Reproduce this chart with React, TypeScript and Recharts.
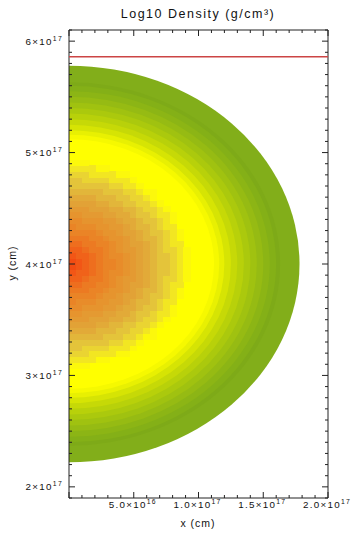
import {
  ScatterChart,
  Scatter,
  XAxis,
  YAxis,
  ReferenceArea,
  ReferenceLine,
} from "recharts";

const FONT = "'Liberation Sans', Arial, sans-serif";
const AXIS = "#222";

// axis setup (cm)
const X_DOMAIN = [0, 2e17];
const Y_DOMAIN = [1.9e17, 6.1e17];
const X_MAJOR = [0, 5e16, 1e17, 1.5e17, 2e17];
const X_LABEL_BASE = ["", "5.0×10", "1.0×10", "1.5×10", "2.0×10"];
const X_LABEL_EXP = ["", "16", "17", "17", "17"];
const Y_MAJOR = [2e17, 3e17, 4e17, 5e17, 6e17];
const Y_LABEL_BASE = ["2×10", "3×10", "4×10", "5×10", "6×10"];
const Y_LABEL_EXP = ["17", "17", "17", "17", "17"];
const MINOR_STEP = 1e16;

// cloud geometry
const CENTER_Y = 4.0e17;
const RED_LINE_Y = 5.86e17;

// smooth outer rings: outer radius (1e17 cm) -> colour
const RING_RADII = [1.78, 1.63, 1.6, 1.55, 1.5, 1.45, 1.4, 1.35, 1.3, 1.25, 1.2, 1.16, 1.12];
const RING_COLORS = [
  "#82ae1a", "#7eaa18", "#84b017", "#8cb515", "#96bb13", "#a0c210", "#abc90d",
  "#b8d10a", "#c6d907", "#d6e404", "#e8f002", "#f6f900", "#ffff00",
];

// blocky core: outer radius (1e17 cm) -> colour
const CORE_RADII = [
  0.05, 0.1, 0.16, 0.22, 0.28, 0.34, 0.4, 0.46, 0.52, 0.58, 0.64, 0.7, 0.76, 0.82, 0.88, 0.92,
];
const CORE_COLORS = [
  "#f24c12", "#f25616", "#f0621a", "#ee6e1e", "#ec7a22", "#ea8426", "#e88c2a", "#e6942e",
  "#e49a32", "#e2a236", "#e2aa38", "#e2b63a", "#e4c43a", "#eAd432", "#f2e622", "#fcf80c",
];
const CELL = 5.2e15;

const xTicks: number[] = [];
for (let v = X_DOMAIN[0]; v <= X_DOMAIN[1] + 1; v += MINOR_STEP) xTicks.push(v);
const yTicks: number[] = [];
for (let k = 19; k <= 61; k++) yTicks.push(k * MINOR_STEP);

const CORE_N = Math.ceil((CORE_RADII[CORE_RADII.length - 1] * 1e17) / CELL);
const cells: { x0: number; x1: number; y0: number; y1: number; color: string }[] = [];
for (let i = 0; i < CORE_N; i++) {
  for (let j = -CORE_N; j < CORE_N; j++) {
    const cx = (i + 0.5) * CELL;
    const cy = (j + 0.5) * CELL;
    const r = Math.hypot(cx, cy) / 1e17;
    const idx = CORE_RADII.findIndex((R) => r < R);
    if (idx < 0) continue;
    cells.push({
      x0: i * CELL,
      x1: (i + 1) * CELL,
      y0: CENTER_Y + j * CELL,
      y1: CENTER_Y + (j + 1) * CELL,
      color: CORE_COLORS[idx],
    });
  }
}
const CORE_BOX = {
  x1: 0,
  x2: CORE_N * CELL,
  y1: CENTER_Y - CORE_N * CELL,
  y2: CENTER_Y + CORE_N * CELL,
};

const near = (a: number, b: number) => Math.abs(a - b) < 1e12;

function HalfDisk(props: any) {
  const { x, y, width, height, fill } = props;
  const d = `M${x},${y} A${width},${height / 2} 0 0 1 ${x},${y + height} Z`;
  return <path d={d} fill={fill} stroke="none" />;
}

function CoreCells(props: any) {
  const { x, y, width, height } = props;
  const sx = width / (CORE_BOX.x2 - CORE_BOX.x1);
  const sy = height / (CORE_BOX.y2 - CORE_BOX.y1);
  return (
    <g shapeRendering="crispEdges">
      {cells.map((c, k) => (
        <rect
          key={k}
          x={x + (c.x0 - CORE_BOX.x1) * sx}
          y={y + (CORE_BOX.y2 - c.y1) * sy}
          width={(c.x1 - c.x0) * sx + 0.5}
          height={(c.y1 - c.y0) * sy + 0.5}
          fill={c.color}
        />
      ))}
    </g>
  );
}

// IDL-style inward tick marks drawn at both ends of a reference line
function TickPair(props: any) {
  const { x1, y1, x2, y2, len } = props;
  if (x1 === x2) {
    const top = Math.min(y1, y2);
    const bot = Math.max(y1, y2);
    return (
      <g>
        <line x1={x1} y1={top} x2={x1} y2={top + len} stroke={AXIS} />
        <line x1={x1} y1={bot} x2={x1} y2={bot - len} stroke={AXIS} />
      </g>
    );
  }
  const left = Math.min(x1, x2);
  const right = Math.max(x1, x2);
  return (
    <g>
      <line x1={left} y1={y1} x2={left + len} y2={y1} stroke={AXIS} />
      <line x1={right} y1={y1} x2={right - len} y2={y1} stroke={AXIS} />
    </g>
  );
}

function XLabel(props: any) {
  const { x, y, payload } = props;
  const mi = X_MAJOR.findIndex((m) => near(m, payload.value));
  if (mi < 0 || !X_LABEL_BASE[mi]) return <g />;
  return (
    <text
      x={x - 1}
      y={y + 9}
      textAnchor="middle"
      fontFamily={FONT}
      fontSize={9.8}
      letterSpacing={1.3}
      fill="#111"
    >
      {X_LABEL_BASE[mi]}
      <tspan dy={-4} fontSize={6.8}>
        {X_LABEL_EXP[mi]}
      </tspan>
    </text>
  );
}

function YLabel(props: any) {
  const { x, y, payload } = props;
  const mi = Y_MAJOR.findIndex((m) => near(m, payload.value));
  if (mi < 0) return <g />;
  return (
    <text
      x={x - 5}
      y={y + 3.5}
      textAnchor="end"
      fontFamily={FONT}
      fontSize={9.8}
      letterSpacing={1.3}
      fill="#111"
    >
      {Y_LABEL_BASE[mi]}
      <tspan dy={-4} fontSize={6.8}>
        {Y_LABEL_EXP[mi]}
      </tspan>
    </text>
  );
}

export default function App() {
  return (
    <div style={{ position: "absolute", left: 0, top: 0, width: 353, height: 534, background: "#fff" }}>
      <ScatterChart
        width={353}
        height={534}
        margin={{ top: 30, right: 25, bottom: 0, left: 0 }}
      >
        <XAxis
          type="number"
          dataKey="x"
          domain={X_DOMAIN}
          ticks={X_MAJOR}
          interval={0}
          height={36}
          tickSize={1}
          tickMargin={0}
          tickLine={false}
          axisLine={false}
          allowDataOverflow
          tick={(p: any) => <XLabel {...p} />}
        />
        <YAxis
          type="number"
          dataKey="y"
          domain={Y_DOMAIN}
          ticks={Y_MAJOR}
          interval={0}
          width={69}
          tickSize={1}
          tickMargin={0}
          tickLine={false}
          axisLine={false}
          allowDataOverflow
          tick={(p: any) => <YLabel {...p} />}
        />
        {RING_RADII.map((r, i) => (
          <ReferenceArea
            key={`ring-${i}`}
            x1={0}
            x2={r * 1e17}
            y1={CENTER_Y - r * 1e17}
            y2={CENTER_Y + r * 1e17}
            fill={RING_COLORS[i]}
            fillOpacity={1}
            shape={(p: any) => <HalfDisk {...p} fill={RING_COLORS[i]} />}
          />
        ))}
        <ReferenceArea
          x1={CORE_BOX.x1}
          x2={CORE_BOX.x2}
          y1={CORE_BOX.y1}
          y2={CORE_BOX.y2}
          fillOpacity={1}
          shape={(p: any) => <CoreCells {...p} />}
        />
        <ReferenceLine y={RED_LINE_Y} stroke="#cc4444" strokeWidth={1.5} />
        {xTicks.map((v) => (
          <ReferenceLine
            key={`xt-${v}`}
            x={v}
            shape={(p: any) => (
              <TickPair {...p} len={X_MAJOR.some((m) => near(m, v)) ? 6 : 3} />
            )}
          />
        ))}
        {yTicks.map((v) => (
          <ReferenceLine
            key={`yt-${v}`}
            y={v}
            shape={(p: any) => (
              <TickPair {...p} len={Y_MAJOR.some((m) => near(m, v)) ? 6 : 3} />
            )}
          />
        ))}
        <ReferenceArea
          x1={X_DOMAIN[0]}
          x2={X_DOMAIN[1]}
          y1={Y_DOMAIN[0]}
          y2={Y_DOMAIN[1]}
          fill="none"
          fillOpacity={0}
          stroke={AXIS}
          strokeWidth={1}
        />
        <Scatter data={[]} isAnimationActive={false} />
      </ScatterChart>
      <svg
        width={353}
        height={534}
        style={{ position: "absolute", left: 0, top: 0, pointerEvents: "none" }}
      >
        <text x={198} y={18} textAnchor="middle" fontFamily={FONT} fontSize={12.5} letterSpacing={1.5} fill="#111">
          Log10 Density (g/cm³)
        </text>
        <text x={198} y={527} textAnchor="middle" fontFamily={FONT} fontSize={10.5} letterSpacing={1} fill="#111">
          x (cm)
        </text>
        <text
          x={0}
          y={0}
          transform="translate(16,263) rotate(-90)"
          textAnchor="middle"
          fontFamily={FONT}
          fontSize={10.5}
          letterSpacing={1}
          fill="#111"
        >
          y (cm)
        </text>
      </svg>
    </div>
  );
}
